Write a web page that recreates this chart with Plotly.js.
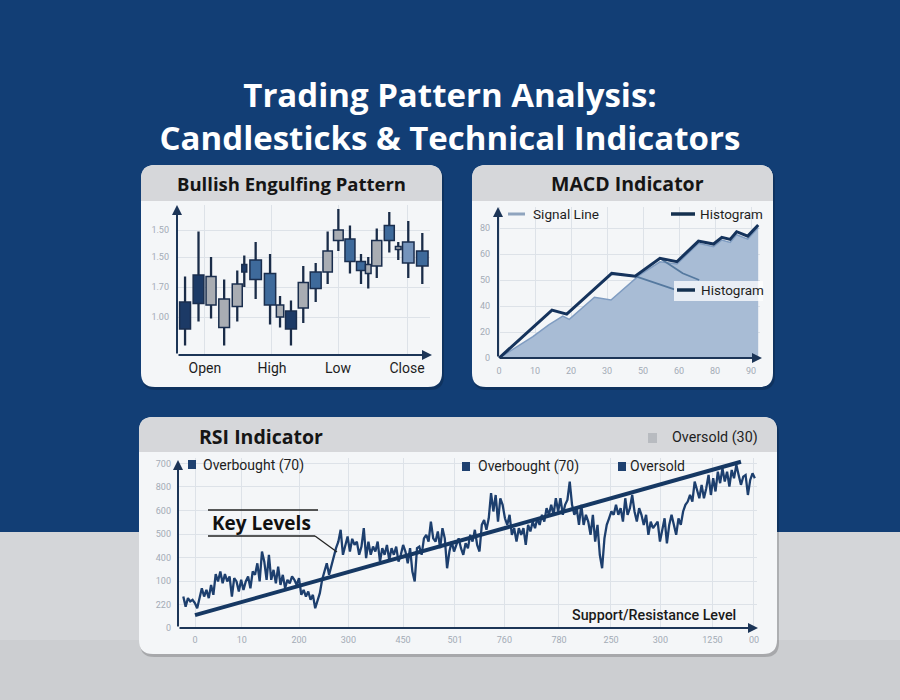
<!DOCTYPE html>
<html>
<head>
<meta charset="utf-8">
<script src="https://cdn.plot.ly/plotly-3.0.1.min.js"></script>
<style>
html,body{margin:0;padding:0;background:#123e75;}
#chart{width:900px;height:700px;}
</style>
</head>
<body>
<div id="chart"></div>
<script>
// ================= DATA =================
// Panel 1 – Bullish Engulfing Pattern (candlesticks)
const candleX     = [0.7,1.87,2.96,4.1,5.24,5.85,6.84,8.09,8.96,9.91,10.98,12.06,13.1,14.03,15.04,16.0,16.63,17.37,18.46,19.24,20.11,21.33];
const candleOpen  = [0.92,1.09,1.27,1.12,1.22,1.30,1.25,1.08,1.08,0.92,1.23,1.19,1.44,1.58,1.37,1.31,1.35,1.51,1.51,1.47,1.36,1.34];
const candleHigh  = [1.27,1.57,1.40,1.25,1.31,1.41,1.50,1.42,1.14,1.11,1.34,1.36,1.57,1.72,1.61,1.42,1.40,1.59,1.70,1.50,1.64,1.56];
const candleLow   = [0.81,0.97,0.99,0.81,0.97,1.20,1.12,0.95,0.93,0.81,0.96,1.10,1.22,1.44,1.29,1.22,1.19,1.26,1.43,1.38,1.26,1.22];
const candleClose = [1.10,1.28,1.08,0.93,1.07,1.35,1.38,1.29,1.00,1.04,1.06,1.30,1.30,1.51,1.52,1.37,1.29,1.34,1.61,1.45,1.50,1.44];
const candleXTicks = ['Open','High','Low','Close'];
const candleYTicks = ['1.00','1.70','1.50','1.50'];

// Panel 2 – MACD Indicator
const macdX   = [0,14.7,18.8,31.3,37.8,44.7,49.4,55.4,59.6,61.9,64.2,66,69.1,72];
const macdY   = [0,36.9,33.8,65.1,63,76.7,74.1,90,87.7,92.8,91.3,97.2,93.8,102.3];
const histX   = [0,9.4,13.8,17.7,19.5,26.5,31.1,39,44.7,49.4,55.4,59.6,61.9,64.2,66,69.1,72];
const histY   = [0,16.4,25.4,32.3,29.7,46.7,44.6,63.8,74,72.3,88.2,85.6,90.8,89,94.9,91.5,100.5];
const signalX = [31.3,37.8,48.7,null,44.7,51,55.6];
const signalY = [65.1,63,52.8,null,76.7,65.2,60];
const macdXTicks = ['0','10','20','30','50','60','80','90'];
const macdYTicks = ['0','20','40','50','60','80'];

// Panel 3 – RSI Indicator
const rsiValues = [
 135,92,128,114,121,107,85,135,170,135,
 163,128,184,142,230,199,241,191,230,199,
 220,135,213,199,156,206,163,199,220,170,
 241,227,276,199,326,283,206,312,206,248,
 191,262,184,227,170,206,191,220,206,184,
 213,142,163,135,156,121,142,85,114,149,
 206,241,276,227,269,305,340,368,418,312,
 347,390,326,380,354,368,312,347,425,298,
 368,312,347,326,368,283,340,312,354,290,
 340,312,347,283,312,354,326,276,340,241,
 199,340,347,312,382,397,368,453,382,368,
 411,340,425,382,255,326,368,326,
 354,382,340,312,361,340,397,368,418,354,
 326,439,460,418,467,574,496,566,453,552,
 524,467,439,482,397,425,368,425,397,425,
 354,439,411,453,425,467,439,482,453,510,
 482,524,482,552,496,552,482,524,545,623,
 524,482,510,439,524,439,482,453,397,482,
 368,439,312,255,382,439,467,496,482,524,
 482,510,453,552,482,510,566,496,453,510,
 482,439,482,397,453,425,439,453,368,418,
 467,361,439,482,439,397,467,439,496,524,
 538,566,538,623,588,552,609,552,595,651,
 566,637,581,665,616,680,623,665,602,672,
 637,694,651,609,644,651,566,630,658,637
];
const trendX = [0,1050];
const trendY = [56,707];
const rsiXTicks = ['0','10','200','300','450','501','760','780','250','300','1250','00'];
const rsiYTicks = ['0','220','100','400','500','600','800','700'];

// ================= STYLE =================
const NAVY = '#1c3a66', BLUE = '#3e6a9b', GREY = '#a9adb3', LIGHT = '#7594bc';
const candleFill  = [NAVY,NAVY,GREY,GREY,GREY,NAVY,BLUE,BLUE,GREY,NAVY,GREY,BLUE,GREY,GREY,BLUE,BLUE,GREY,GREY,BLUE,GREY,LIGHT,BLUE];
const candleWidth = [0.95,0.93,0.87,0.93,0.87,0.43,1.0,0.98,0.64,0.95,0.87,0.95,0.81,0.84,0.87,0.78,0.49,0.87,0.87,0.49,1.0,1.0];

const W = 900, H = 700;
const PX = v => v / W;
const PY = v => 1 - v / H;

// derived for the bar-drawn candles
const bodyBase = candleOpen.map((o,i) => Math.min(o, candleClose[i]));
const bodyLen  = candleOpen.map((o,i) => Math.max(Math.abs(candleClose[i]-o), 0.012));
const wickLen  = candleHigh.map((h,i) => h - candleLow[i]);

const traces = [
  {type:'bar', x:candleX, base:candleLow, y:wickLen, width:0.2, xaxis:'x', yaxis:'y',
   marker:{color:'#1a2c48', line:{width:0}}, hoverinfo:'skip'},
  {type:'bar', x:candleX, base:bodyBase, y:bodyLen, width:candleWidth, xaxis:'x', yaxis:'y',
   marker:{color:candleFill, line:{color:'#1a2e4e', width:1.5}}, hoverinfo:'skip'},
  {type:'scatter', mode:'lines', x:histX, y:histY, fill:'tozeroy', fillcolor:'#a8bcd5',
   line:{color:'#7f9cc1', width:1.5}, xaxis:'x2', yaxis:'y2', hoverinfo:'skip'},
  {type:'scatter', mode:'lines', x:signalX, y:signalY, connectgaps:false,
   line:{color:'#55799f', width:1.8}, xaxis:'x2', yaxis:'y2', hoverinfo:'skip'},
  {type:'scatter', mode:'lines', x:macdX, y:macdY,
   line:{color:'#15335c', width:3}, xaxis:'x2', yaxis:'y2', hoverinfo:'skip'},
  {type:'scatter', mode:'lines', x0:-22.5, dx:4.45, y:rsiValues,
   line:{color:'#1d3f6e', width:2.3}, xaxis:'x3', yaxis:'y3', hoverinfo:'skip'},
  {type:'scatter', mode:'lines', x:trendX, y:trendY,
   line:{color:'#163863', width:4}, xaxis:'x3', yaxis:'y3', hoverinfo:'skip'}
];

// ---------- helpers for decorations ----------
function rr(x0,y0,x1,y1,r){
  const X=v=>PX(v).toFixed(5), Y=v=>PY(v).toFixed(5);
  return `M${X(x0+r)},${Y(y0)} L${X(x1-r)},${Y(y0)} Q${X(x1)},${Y(y0)} ${X(x1)},${Y(y0+r)} `+
         `L${X(x1)},${Y(y1-r)} Q${X(x1)},${Y(y1)} ${X(x1-r)},${Y(y1)} L${X(x0+r)},${Y(y1)} `+
         `Q${X(x0)},${Y(y1)} ${X(x0)},${Y(y1-r)} L${X(x0)},${Y(y0+r)} Q${X(x0)},${Y(y0)} ${X(x0+r)},${Y(y0)} Z`;
}
function topBand(x0,y0,x1,y1,r){
  const X=v=>PX(v).toFixed(5), Y=v=>PY(v).toFixed(5);
  return `M${X(x0)},${Y(y1)} L${X(x0)},${Y(y0+r)} Q${X(x0)},${Y(y0)} ${X(x0+r)},${Y(y0)} `+
         `L${X(x1-r)},${Y(y0)} Q${X(x1)},${Y(y0)} ${X(x1)},${Y(y0+r)} L${X(x1)},${Y(y1)} Z`;
}
const pathShape = (p, fill, layer='below') => ({type:'path', xref:'paper', yref:'paper', path:p, fillcolor:fill, line:{width:0}, layer});
const rect = (x0,y0,x1,y1,fill,layer='below') => ({type:'rect', xref:'paper', yref:'paper', x0:PX(x0), x1:PX(x1), y0:PY(y1), y1:PY(y0), fillcolor:fill, line:{width:0}, layer});
const seg = (x0,y0,x1,y1,color,width,layer='above') => ({type:'line', xref:'paper', yref:'paper', x0:PX(x0), y0:PY(y0), x1:PX(x1), y1:PY(y1), line:{color, width}, layer});

const panels = [
  {x0:141,y0:165,x1:442,y1:387,hb:201},
  {x0:472,y0:165,x1:773,y1:387,hb:201},
  {x0:139,y0:417,x1:777,y1:654,hb:452}
];
const shapes = [
  rect(0,532,900,700,'#d4d6d9'),
  rect(0,640,900,700,'rgba(0,0,0,0.035)')
];
panels.forEach(p => {
  shapes.push(pathShape(rr(p.x0+1,p.y0+2,p.x1+2,p.y1+3,14),'rgba(0,0,0,0.18)'));
  shapes.push(pathShape(rr(p.x0,p.y0,p.x1,p.y1,14),'#f4f6f8'));
  shapes.push(pathShape(topBand(p.x0,p.y0,p.x1,p.hb,14),'#d6d7da'));
});
// MACD legend symbols
shapes.push(seg(508,214,525,214,'#8fa4be',3));
shapes.push(seg(671,214,695,214,'#14304f',3.5));
shapes.push(rect(674,281,763,301,'rgba(255,255,255,0.75)','above'));
shapes.push(seg(677,290,695,290,'#14304f',3.5));
// RSI legend symbols
shapes.push(rect(188,460,196,469,'#1f4170','above'));
shapes.push(rect(462,462,470,471,'#1f4170','above'));
shapes.push(rect(618,462,626,471,'#1f4170','above'));
shapes.push(rect(648,433,657,443,'#b8bbc0','above'));
// Key Levels callout lines
shapes.push(seg(208,510,318,510,'#222',1.3));
shapes.push(seg(208,536,315,536,'#222',1.3));
shapes.push(seg(315,536,337,552,'#222',1.3));

const arrow = (x0,y0,x1,y1) => ({x:PX(x1), y:PY(y1), xref:'paper', yref:'paper', ax:x0-x1, ay:y0-y1,
  axref:'pixel', ayref:'pixel', showarrow:true, arrowhead:2, arrowsize:1, arrowwidth:2, arrowcolor:'#1c3557', text:'', standoff:0, startstandoff:0});
const txt = (text,x,y,size,opts={}) => Object.assign({text, x:PX(x), y:PY(y), xref:'paper', yref:'paper', showarrow:false,
  xanchor:'left', yanchor:'middle', font:{family:'Roboto, sans-serif', size, color:'#1e1e1e'}}, opts);
const boldFont = (size, color='#151515') => ({family:'Open Sans, sans-serif', size, color, weight:700});

const annotations = [
  arrow(177,355,177,205), arrow(177,355,432,355),
  arrow(498,358,498,207), arrow(498,358,762,358),
  arrow(178,628,178,460), arrow(178,628,758,628),
  txt('Bullish Engulfing Pattern',291,183,18.5,{xanchor:'center', font:boldFont(18.5)}),
  txt('MACD Indicator',627,183,19.5,{xanchor:'center', font:boldFont(19.5)}),
  txt('RSI Indicator',197,436,19.5,{font:boldFont(19.5)}),
  txt('Oversold (30)',670,438,14.3),
  txt('Signal Line',531,214,13.6),
  txt('Histogram',698,214,13.5),
  txt('Histogram',699,290,13.5),
  txt('Overbought (70)',201,465,14),
  txt('Overbought (70)',476,466,14),
  txt('Oversold',628,466,14),
  txt('Key Levels',210,523,19,{font:boldFont(19,'#111')}),
  txt('Support/Resistance Level',654,615,14.3,{xanchor:'center', font:{family:'Roboto, sans-serif', size:14.3, color:'#1a1a1a', weight:500}})
];

const gridC = '#dde2e8';
const tickGrey = {family:'Roboto, sans-serif', size:9, color:'#a3abb6'};
const baseAxis = {zeroline:false, showline:false, ticks:'', showgrid:true, gridcolor:gridC, gridwidth:1, fixedrange:true, tickmode:'array'};

const layout = {
  width:W, height:H, margin:{l:0,r:0,t:0,b:0},
  paper_bgcolor:'#123e75', plot_bgcolor:'rgba(0,0,0,0)',
  showlegend:false, barmode:'overlay',
  font:{family:'Roboto, sans-serif', color:'#222'},
  title:{text:'Trading Pattern Analysis:<br>Candlesticks & Technical Indicators', x:0.5, xanchor:'center',
         y:PY(107), yanchor:'middle', font:{family:'Open Sans, sans-serif', size:33, color:'#ffffff', weight:700}},
  xaxis: Object.assign({}, baseAxis, {domain:[177/W,430/W], range:[0,22], anchor:'y',
    tickvals:[2.43,8.26,14,20], ticktext:candleXTicks, tickfont:{family:'Roboto, sans-serif', size:14, color:'#1d1d1d'}, ticklabelstandoff:3}),
  yaxis: Object.assign({}, baseAxis, {domain:[PY(355),PY(205)], range:[0.7467,1.7467], anchor:'x',
    tickvals:[1.0,1.2,1.4,1.58], ticktext:candleYTicks, tickfont:tickGrey, ticklabelstandoff:7}),
  xaxis2: Object.assign({}, baseAxis, {domain:[498/W,760/W], range:[-0.3,72.5], anchor:'y2',
    tickvals:[0,10,20,30,40,50,60,70], ticktext:macdXTicks, tickfont:tickGrey, ticklabelstandoff:6}),
  yaxis2: Object.assign({}, baseAxis, {domain:[PY(358),PY(207)], range:[0,116.2], anchor:'x2',
    tickvals:[0,20,40,60,80,100], ticktext:macdYTicks, tickfont:tickGrey, ticklabelstandoff:7}),
  xaxis3: Object.assign({}, baseAxis, {domain:[178/W,757/W], range:[-32.7,1080.8], anchor:'y3',
    tickvals:[0,90,200,295,400,500,595,700,800,895,995,1075], ticktext:rsiXTicks, tickfont:tickGrey, ticklabelstandoff:5}),
  yaxis3: Object.assign({}, baseAxis, {domain:[PY(628.3),PY(458)], range:[0,723], anchor:'x3',
    tickvals:[0,100,200,300,400,500,600,700], ticktext:rsiYTicks, tickfont:tickGrey, ticklabelstandoff:6}),
  shapes, annotations
};

Plotly.newPlot('chart', traces, layout, {staticPlot:true, displayModeBar:false});
</script>
</body>
</html>
